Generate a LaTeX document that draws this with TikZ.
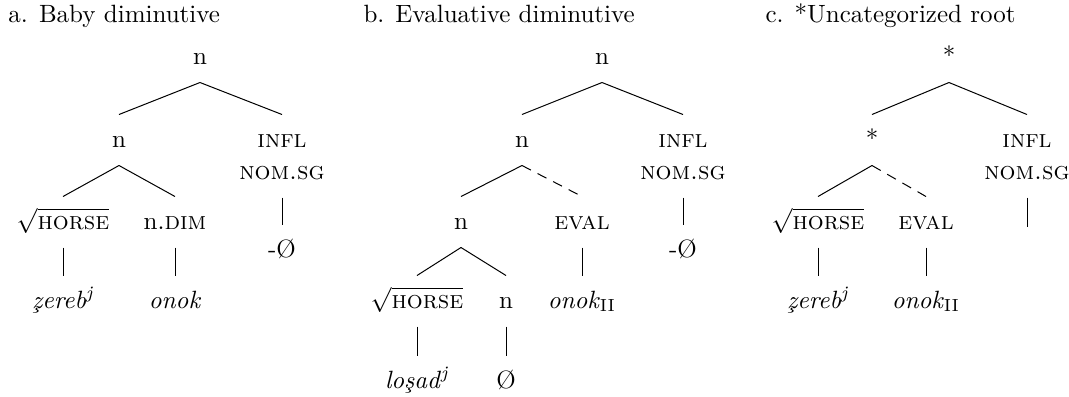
\documentclass[tikz,border=0pt]{standalone}
\usepackage{amsmath}
\usepackage{tikz}

\newcommand{\zced}{\ooalign{z\cr\hidewidth\kern-.1em\char"00B8\hidewidth\cr}}

\begin{document}
\begin{tikzpicture}[x=0.4pt,y=-0.4pt,
  lab/.style={draw=none,inner sep=0pt,minimum height=20pt,text height=1.6ex,text depth=.3ex},
  tit/.style={draw=none,anchor=base west,inner sep=0pt},
  dbr/.style={dash pattern=on 4pt off 3pt}]
  \useasboundingbox (0,0) rectangle (1069,396);

  % a. baby diminutive
  \node[tit] (atit) at (8,22) {a. Baby diminutive};
  \node[lab] (aroot) at (200,57) {n};
  \node[lab] (an) at (119,140) {n};
  \node[lab] (ainfl) at (282,140) {\textsc{infl}};
  \node[lab] (anom) at (282,172) {\textsc{nom.sg}};
  \node[lab] (ahorse) at (63,222) {$\sqrt{\textsc{horse}}$};
  \node[lab] (adim) at (175,222) {n.\textsc{dim}};
  \node[lab] (anull) at (282,250) {-Ø};
  \node[lab] (aword) at (63,301) {\textit{\zced ereb\/\textsuperscript{j}}};
  \node[lab] (asuf) at (175,301) {\textit{onok}};

  \draw (aroot.south) -- (an.north);
  \draw (aroot.south) -- (ainfl.north);
  \draw (an.south) -- (ahorse.north);
  \draw (an.south) -- (adim.north);
  \draw (anom.south) -- (anull.north);
  \draw (ahorse.south) -- (aword.north);
  \draw (adim.south) -- (asuf.north);

  % b. evaluative diminutive
  \node[tit] (btit) at (363,22) {b. Evaluative diminutive};
  \node[lab] (broot) at (602,57) {n};
  \node[lab] (bn) at (522,140) {n};
  \node[lab] (binfl) at (683,140) {\textsc{infl}};
  \node[lab] (bnom) at (683,172) {\textsc{nom.sg}};
  \node[lab] (bnull) at (683,250) {-Ø};
  \node[lab] (bn2) at (461,222) {n};
  \node[lab] (beval) at (582,222) {\textsc{eval}};
  \node[lab] (bsuf) at (582,301) {\textit{onok}$_{\mathrm{II}}$};
  \node[lab] (bhorse) at (417,301) {$\sqrt{\textsc{horse}}$};
  \node[lab] (bnn) at (506,301) {n};
  \node[lab] (bword) at (417,381) {\textit{lo\c{s}ad\/\textsuperscript{j}}};
  \node[lab] (bzero) at (506,381) {Ø};

  \draw (broot.south) -- (bn.north);
  \draw (broot.south) -- (binfl.north);
  \draw (bnom.south) -- (bnull.north);
  \draw (bn.south) -- (bn2.north);
  \draw[dbr] (bn.south) -- (beval.north);
  \draw (beval.south) -- (bsuf.north);
  \draw (bn2.south) -- (bhorse.north);
  \draw (bn2.south) -- (bnn.north);
  \draw (bhorse.south) -- (bword.north);
  \draw (bnn.south) -- (bzero.north);

  % c. uncategorized root
  \node[tit] (ctit) at (765,22) {c. *Uncategorized root};
  \node[lab] (croot) at (949,57) {*};
  \node[lab] (cstar) at (872,140) {*};
  \node[lab] (cinfl) at (1027,140) {\textsc{infl}};
  \node[lab] (cnom) at (1027,172) {\textsc{nom.sg}};
  \coordinate (cend) at (1027,227);
  \node[lab] (chorse) at (818,222) {$\sqrt{\textsc{horse}}$};
  \node[lab] (ceval) at (926,222) {\textsc{eval}};
  \node[lab] (cword) at (818,301) {\textit{\zced ereb\/\textsuperscript{j}}};
  \node[lab] (csuf) at (926,301) {\textit{onok}$_{\mathrm{II}}$};

  \draw (croot.south) -- (cstar.north);
  \draw (croot.south) -- (cinfl.north);
  \draw (cnom.south) -- (cend);
  \draw (cstar.south) -- (chorse.north);
  \draw[dbr] (cstar.south) -- (ceval.north);
  \draw (chorse.south) -- (cword.north);
  \draw (ceval.south) -- (csuf.north);

\end{tikzpicture}
\end{document}
